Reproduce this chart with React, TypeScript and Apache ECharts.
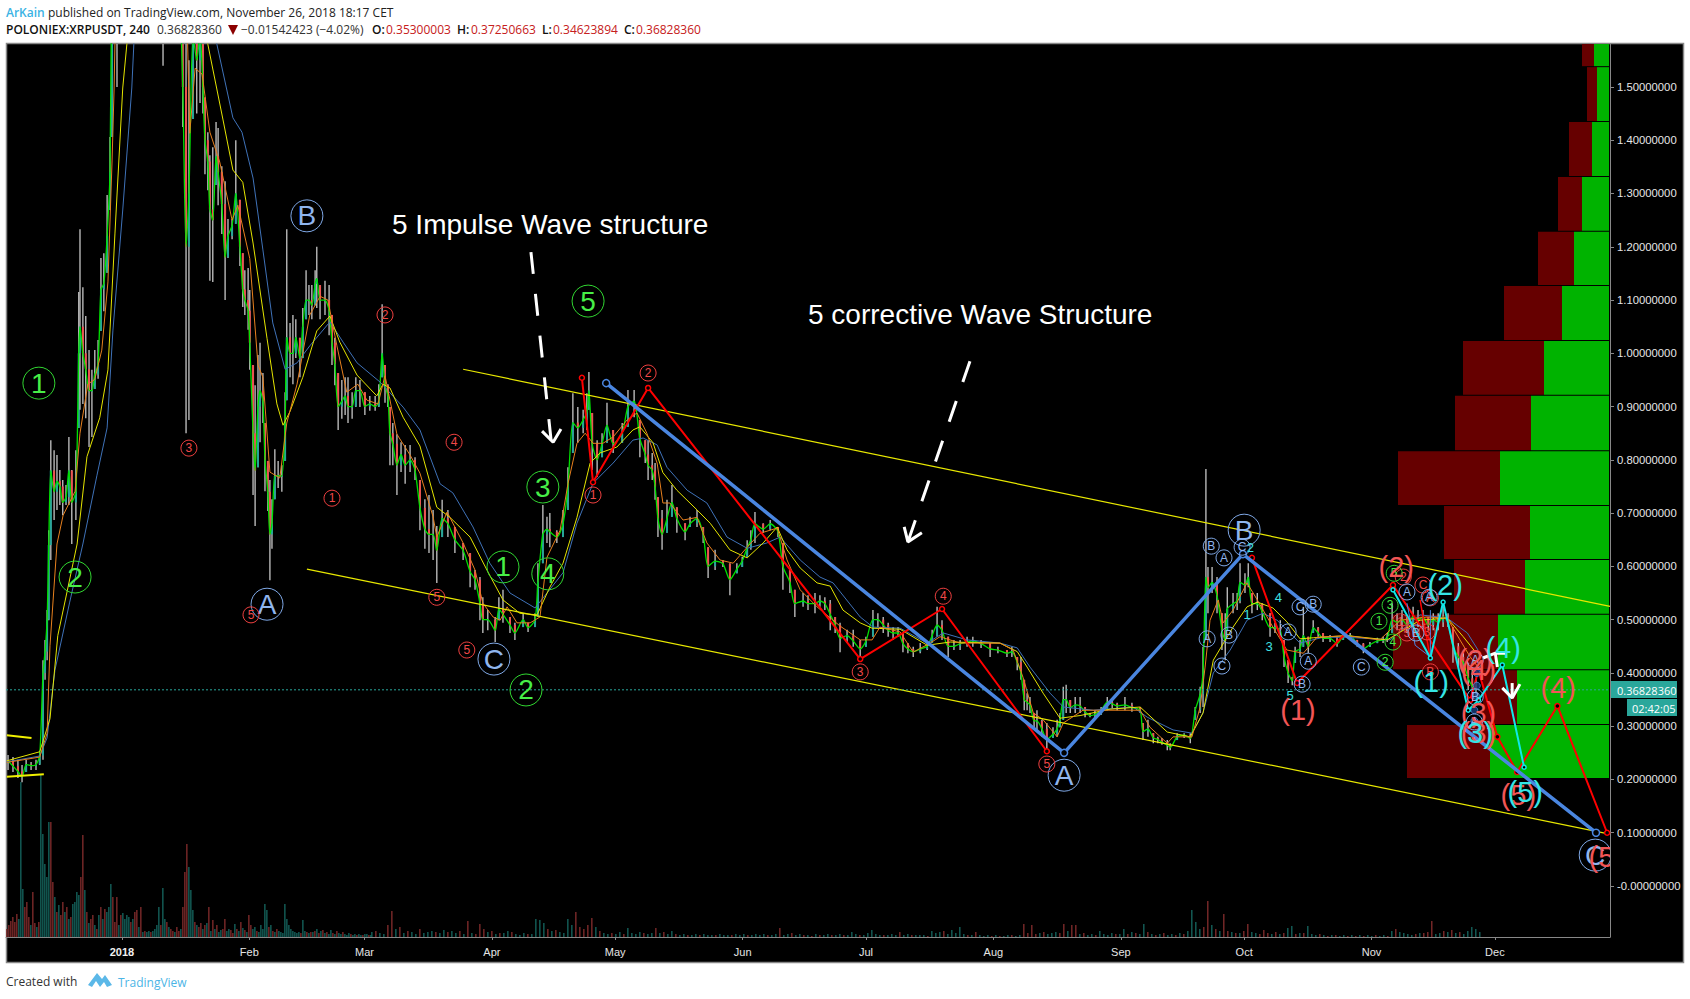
import React, { useEffect, useRef } from "react";
import * as echarts from "echarts";

const FONT = "'Liberation Sans', Arial, sans-serif";

const minDay = -28.2;
const maxDay = 362;
const minPrice = -0.0957;
const maxPrice = 1.5806;
const lastPrice = 0.3682836;

const monthDays = [0, 31, 59, 90, 120, 151, 181, 212, 243, 273, 304, 334];
const monthLabels = ["2018", "Feb", "Mar", "Apr", "May", "Jun", "Jul", "Aug", "Sep", "Oct", "Nov", "Dec"];
const priceTicks = [0, 0.1, 0.2, 0.3, 0.4, 0.5, 0.6, 0.7, 0.8, 0.9, 1.0, 1.1, 1.2, 1.3, 1.4, 1.5];

// price bars: [day since 2018-01-01, low, high, close]
const barsDec = [
  [-27.7,.218,.246,.235],[-26.5,.214,.242,.225],[-25.3,.203,.237,.215],[-24.3,.195,.227,.205],[-23.3,.214,.237,.228],[-22.1,.218,.233,.226],[-20.9,.218,.237,.228],[-20,.227,.252,.245],[-19.2,.237,.424,.40],[-18.7,.387,.462,.44],[-18.2,.424,.518,.50],[-17.8,.499,.668,.64],[-17.3,.612,.837,.78],[-16.5,.687,.818,.74],[-15.8,.706,.809,.76],[-15.1,.715,.781,.75],[-14.4,.696,.762,.72],[-13.6,.715,.753,.73],[-12.9,.715,.843,.78],[-12.2,.642,.781,.72],[-11.2,.687,.818,.74],[-10.5,.860,1.115,1.0],[-10.2,.894,1.233,1.05],[-9.5,.905,1.124,1.0],[-8.8,.878,1.07,.97],[-8,.824,1.006,.93],[-7.3,.843,.969,.93],[-6.6,.933,1.006,.96],[-5.8,.952,1.025,.98],[-5.1,1.042,1.179,1.12],[-4.4,1.079,1.188,1.13],[-3.6,1.151,1.297,1.22],[-2.9,1.269,1.406,1.34],[-2.4,1.406,1.9,1.75],[-1.2,1.50,2.3,2.1],
];
const barsJan = [
  [1,1.9,2.6,2.2],[3,2.2,3.0,2.7],[5,2.3,3.2,2.8],[7,2.0,2.8,2.4],[9,1.85,2.6,2.2],[10,1.54,2.2,2.0],[12,1.7,2.3,1.9],[13.5,1.6,2.1,1.8],[14.8,1.425,1.9,1.5],[15.6,.85,1.6,1.2],[16.3,.875,1.55,1.3],[17.3,1.44,1.7,1.6],[18.2,1.45,1.75,1.55],[19,1.47,1.75,1.6],[19.7,1.45,1.62,1.5],[20.2,1.336,1.48,1.4],[20.9,1.306,1.415,1.36],[21.4,1.136,1.372,1.27],[22.1,1.134,1.387,1.25],[22.9,1.316,1.434,1.37],[23.4,1.278,1.423,1.34],[24.3,1.224,1.351,1.28],[25.1,1.10,1.323,1.18],[25.8,1.179,1.252,1.22],[26.8,1.214,1.252,1.24],[27.7,1.243,1.40,1.3],[28.7,1.164,1.288,1.2],[29.4,1.087,1.188,1.12],[29.9,1.072,1.156,1.1],[30.7,1.044,1.16,1.08],
];
const barsFeb = [
  [31.1,.969,1.119,1.02],[31.9,.734,.978,.85],[32.4,.676,.94,.78],[33.1,.786,.997,.9],[33.6,.833,1.02,.93],[34.3,.869,.963,.91],[34.8,.741,.869,.8],[35.5,.704,.798,.74],[36,.574,.762,.66],[36.5,.633,.726,.68],[37.2,.726,.82,.77],[38,.747,.798,.77],[38.9,.74,.79,.77],[39.7,.798,.927,.87],[40.1,.912,1.233,1.03],[40.9,.955,1.057,1.0],[41.6,.942,1.072,1.0],[42.3,.991,1.064,1.03],[43.3,.955,1.029,.99],[44,.991,1.085,1.05],[44.8,1.064,1.156,1.1],[45.5,1.072,1.128,1.1],[46.2,1.064,1.128,1.09],[47,1.09,1.156,1.13],[47.4,1.085,1.2,1.14],[48.2,1.064,1.128,1.1],[49.4,1.072,1.136,1.1],[50.4,1.034,1.128,1.08],[51.1,.978,1.072,1.02],[51.8,.94,1.029,.98],[52.6,.856,.963,.9],[53.5,.877,.95,.91],[54.3,.884,.955,.92],[55,.869,.955,.9],[56,.877,.927,.9],[56.9,.899,.955,.93],[57.9,.899,.95,.93],
];
const barsMar = [
  [59.1,.884,.927,.9],[60.3,.892,.92,.905],[61.6,.892,.92,.9],[62.5,.899,.942,.91],[63.3,.955,1.092,1.0],[64,.907,.978,.94],[64.7,.899,.942,.92],[65.2,.79,.899,.85],[65.9,.79,.869,.83],[66.9,.734,.848,.79],[67.9,.777,.833,.81],[68.9,.755,.828,.79],[70.1,.777,.828,.8],[71.3,.762,.805,.78],[72.5,.668,.762,.71],[73.7,.633,.726,.67],[74.7,.625,.734,.66],[75.7,.612,.706,.66],[76.6,.569,.676,.63],[77.9,.655,.725,.69],[79.3,.655,.706,.68],[81,.625,.674,.65],[83,.612,.644,.63],[84.7,.561,.625,.59],[85.9,.556,.593,.575],[87.1,.499,.58,.53],[87.8,.475,.542,.50],[89,.48,.518,.50],
];
const barsApr = [
  [90.8,.458,.505,.48],[91.7,.499,.542,.52],[92.7,.494,.556,.51],[94.4,.475,.505,.49],[95.6,.462,.494,.475],[97.6,.486,.512,.50],[98.8,.477,.494,.485],[100.5,.486,.512,.50],[101.2,.505,.606,.57],[102.4,.606,.715,.66],[103.4,.644,.693,.67],[104.1,.636,.70,.665],[105.8,.644,.668,.655],[107.3,.655,.706,.68],[108.5,.706,.786,.75],[109.7,.813,.925,.87],[110.9,.832,.899,.86],[112.2,.85,.894,.875],[113.1,.856,.925,.89],[113.6,.894,.965,.93],[114.4,.781,.888,.83],[115.6,.768,.837,.8],[116.8,.805,.85,.83],[118,.832,.907,.865],[119.5,.813,.856,.83],
];
const barsMay = [
  [121.7,.832,.869,.85],[123.1,.862,.931,.9],[124.6,.88,.931,.91],[126,.805,.875,.84],[127.3,.794,.837,.81],[128,.762,.837,.79],[129,.762,.813,.78],[129.7,.725,.794,.75],[130.4,.655,.73,.69],[131.4,.631,.706,.66],[132.6,.663,.725,.69],[133.8,.693,.753,.72],[135,.663,.711,.69],[137,.649,.681,.665],[138.2,.674,.693,.68],[139.9,.674,.706,.69],[141.4,.644,.674,.66],[142.6,.578,.636,.6],[144.3,.593,.631,.61],[146.2,.599,.612,.605],[147.9,.546,.606,.575],[149.6,.587,.606,.595],
];
const barsJun = [
  [150.9,.599,.618,.61],[152.1,.618,.649,.635],[153,.631,.668,.65],[154,.644,.702,.68],[156,.663,.681,.67],[157.7,.668,.687,.68],[159.6,.655,.674,.665],[160.8,.556,.644,.6],[162.5,.55,.593,.57],[163.7,.505,.556,.53],[165.7,.524,.55,.535],[166.9,.518,.546,.53],[168.6,.512,.55,.53],[169.8,.524,.546,.535],[171,.518,.542,.53],[172.3,.48,.537,.51],[173.5,.475,.505,.49],[174.7,.439,.494,.465],[176.4,.456,.481,.47],[177.9,.449,.481,.46],[179.6,.43,.462,.445],
];
const barsJul = [
  [181,.449,.468,.46],[182.7,.468,.518,.5],[183.9,.486,.512,.5],[185.2,.475,.505,.49],[186.4,.468,.494,.48],[187.6,.462,.486,.475],[188.8,.468,.486,.475],[190,.439,.475,.455],[191.2,.437,.456,.445],[192.5,.43,.449,.44],[194.2,.437,.456,.445],[195.9,.443,.456,.45],[197.1,.456,.481,.47],[198.3,.468,.524,.49],[199.5,.462,.499,.48],[201,.43,.468,.45],[202.4,.443,.462,.45],[203.9,.443,.462,.455],[205.6,.449,.468,.458],[207,.449,.468,.46],[209,.447,.462,.455],[211.2,.43,.456,.445],
];
const barsAug = [
  [213.1,.437,.449,.443],[215.3,.43,.443,.437],[216.5,.43,.449,.44],[217.8,.405,.43,.42],[218.7,.387,.43,.40],[219.5,.33,.387,.35],[220.2,.33,.362,.345],[220.9,.325,.355,.34],[221.9,.298,.325,.31],[222.6,.293,.33,.31],[223.8,.28,.312,.295],[225,.255,.306,.275],[226.5,.278,.298,.285],[227.5,.28,.312,.295],[228.2,.298,.325,.312],[229,.312,.374,.35],[229.7,.325,.378,.35],[230.7,.325,.349,.335],[231.9,.325,.355,.34],[233.1,.325,.355,.338],[234.3,.317,.336,.327],[235.5,.317,.325,.32],[236.7,.315,.33,.322],[238.2,.321,.336,.33],[239.7,.33,.355,.345],[240.9,.334,.349,.342],[242.1,.33,.344,.338],
];
const barsSep = [
  [244,.33,.355,.34],[245.7,.327,.344,.335],[247.7,.325,.336,.33],[248.4,.274,.306,.29],[249.6,.28,.312,.295],[250.9,.268,.287,.278],[252,.268,.28,.275],[253,.265,.278,.27],[254.3,.255,.274,.265],[255,.255,.268,.26],[256.7,.274,.287,.28],[258.4,.278,.287,.283],[259.9,.268,.287,.277],[261.1,.312,.336,.33],[262.3,.325,.374,.36],[263,.336,.449,.40],[263.7,.462,.783,.58],[264.2,.512,.599,.56],[265.2,.55,.599,.57],[266.4,.512,.58,.545],[267.6,.443,.512,.48],[268.4,.424,.512,.46],[268.9,.48,.561,.52],[270.3,.512,.55,.53],[271.3,.518,.55,.535],[272,.531,.606,.57],
];
const barsOct = [
  [273.2,.55,.587,.565],[274,.561,.606,.58],[274.9,.512,.55,.53],[276.2,.518,.55,.53],[277.4,.499,.531,.515],[279.3,.468,.512,.485],[280.5,.475,.494,.485],[281.8,.468,.499,.48],[282.7,.411,.462,.43],[283.7,.381,.424,.40],[284.7,.377,.392,.385],[285.4,.419,.449,.44],[286.6,.43,.462,.445],[287.4,.449,.524,.47],[288.6,.437,.468,.45],[289.8,.475,.499,.485],[291,.468,.486,.475],[292.2,.458,.475,.465],[293.9,.458,.471,.465],[295.6,.449,.468,.455],[297.1,.462,.475,.468],[298.8,.466,.475,.47],[300.5,.449,.462,.455],[302,.437,.456,.445],
];
const barsNov = [
  [303.6,.449,.458,.453],[305.4,.456,.466,.46],[306.8,.456,.468,.462],[307.8,.458,.475,.465],[309,.475,.531,.50],[310.2,.48,.512,.495],[311.4,.48,.518,.5],[312.6,.475,.505,.49],[314.1,.486,.524,.505],[315.3,.486,.518,.50],[316.5,.48,.518,.505],[317.8,.48,.505,.49],[319,.48,.512,.50],[320.2,.48,.512,.495],[321.4,.486,.524,.505],[322.6,.486,.512,.495],[323.8,.419,.486,.45],[325.1,.411,.456,.43],[326.3,.4,.437,.42],[327.5,.368,.419,.39],[328.5,.355,.406,.375],[329.4,.355,.387,.368],
];

const blueMA = [[-28,.233],[-20,.244],[-18.2,.278],[-16.3,.405],[-12.7,.533],[-9.5,.642],[-6.1,.77],[-3.6,.86],[-2.2,1.042],[.2,1.269],[2.4,1.498],[2.9,1.58],[7,1.95],[14,2.1],[20,1.8],[23.1,1.58],[27,1.442],[29.2,1.415],[31.9,1.329],[34.3,1.194],[36.7,1.057],[39.7,.97],[42.6,.982],[45.7,1.014],[50.6,1.059],[53.8,1.021],[57.2,.982],[62.8,.946],[68.4,.899],[72.5,.856],[77.4,.755],[80.5,.738],[85.4,.674],[89.5,.606],[94.4,.55],[100.5,.522],[103.4,.55],[107.3,.588],[110.7,.681],[114.6,.756],[119.5,.794],[124.3,.837],[126.8,.841],[130.2,.828],[132.6,.786],[137.5,.743],[142.3,.719],[147.2,.655],[152.1,.634],[156.9,.644],[160.1,.655],[165,.612],[169.8,.58],[173,.569],[179.6,.505],[182.7,.486],[189.3,.484],[195.9,.456],[199.8,.475],[205.6,.462],[213.6,.456],[217.8,.447],[220.9,.411],[225.8,.362],[229,.336],[236.3,.33],[246,.336],[249.4,.317],[255.7,.293],[260.3,.287],[263,.325],[265.5,.4],[269.6,.443],[273.7,.499],[277.6,.512],[281,.499],[286.6,.456],[292.2,.467],[298,.467],[308.5,.462],[315.8,.509],[322.4,.503],[327.3,.475],[329.9,.443]];
const yellowMA = [[-28,.235],[-20,.252],[-17.5,.314],[-15.6,.47],[-10.9,.642],[-8.5,.806],[-5.4,.879],[-3.4,.969],[-1.7,1.224],[.2,1.498],[1.2,1.58],[5,2.0],[12,2.3],[18,1.9],[20.9,1.58],[24.6,1.438],[27,1.344],[29.4,1.321],[31.9,1.207],[35.3,1.028],[37.7,.905],[39.2,.865],[40.9,.891],[44,.955],[47.4,1.042],[50.6,1.07],[53,1.021],[57.2,.959],[62,.92],[63.5,.942],[65.2,.935],[68.4,.88],[72.5,.826],[76.6,.711],[79.8,.692],[84.7,.655],[88.8,.593],[92.7,.537],[96.8,.512],[101,.509],[104.1,.561],[107.3,.606],[110.7,.692],[113.9,.794],[116.3,.813],[120.4,.824],[124.3,.856],[126,.862],[129.2,.832],[131.6,.776],[135,.743],[139.9,.706],[143.1,.681],[147.9,.631],[152.1,.616],[156,.644],[159.4,.674],[161.8,.631],[165,.597],[169.1,.569],[172.3,.563],[175.4,.518],[179.6,.494],[182.5,.484],[189.3,.482],[195.9,.452],[201.5,.458],[213.6,.456],[217.8,.44],[220.2,.411],[224.1,.362],[228.2,.315],[233.1,.32],[240.4,.332],[247.7,.336],[254.3,.289],[259.9,.28],[263,.325],[265.5,.424],[270.3,.486],[273.7,.524],[276.2,.533],[280,.522],[283.4,.496],[286.6,.464],[289.8,.466],[298,.47],[307.8,.462],[315.8,.499],[322.4,.503],[326.3,.468],[329.2,.44]];
const orangeMA = [[-28,.232],[-20,.242],[-18.2,.287],[-17.5,.451],[-15.8,.642],[-14.3,.696],[-11.4,.741],[-10.2,.85],[-8.3,.942],[-6.6,.951],[-4.9,1.006],[-3.4,1.134],[-2.4,1.361],[-1.9,1.498],[-1.7,1.58],[3,2.2],[8,2.6],[13,2.3],[15,1.9],[16.5,1.413],[17.8,1.535],[19.5,1.524],[21.4,1.415],[23.8,1.359],[26.8,1.25],[28.2,1.278],[31.1,1.178],[33.1,.978],[34.3,.955],[36,.777],[38.4,.766],[40.1,.869],[42.6,.942],[45.7,1.072],[48.2,1.107],[50.1,1.1],[52.3,1.014],[54.7,.927],[57.4,.942],[59.6,.912],[62.3,.905],[64,.958],[66.9,.848],[70.1,.809],[72.5,.775],[75.7,.693],[76.6,.655],[79.1,.702],[83,.644],[85.9,.593],[87.8,.531],[90.3,.505],[92,.499],[93.7,.524],[96.1,.494],[99.3,.494],[101.7,.505],[103.4,.617],[106.6,.668],[108.5,.755],[110.7,.831],[112.7,.85],[114.6,.831],[117,.831],[119.5,.843],[122.9,.875],[125.3,.888],[127.7,.85],[130.2,.794],[131.6,.719],[133.3,.719],[136.5,.687],[139.9,.692],[142.3,.644],[145.5,.612],[148.7,.606],[152.1,.636],[155.2,.662],[159.4,.672],[161.8,.612],[165,.556],[169.1,.524],[174.7,.488],[179.6,.462],[182.5,.462],[184.4,.486],[189.3,.477],[192.5,.439],[196.6,.456],[199,.468],[203.9,.456],[213.6,.456],[216.8,.443],[219.2,.392],[221.7,.325],[224.1,.312],[227.5,.28],[229,.306],[233.8,.33],[247.7,.33],[250.1,.298],[254.3,.268],[255.7,.28],[260.3,.28],[262.3,.336],[263.5,.411],[264.7,.499],[266.7,.537],[267.9,.494],[270.3,.518],[273.7,.569],[276.2,.537],[280,.486],[283.4,.443],[287.4,.437],[290.7,.467],[298,.47],[306,.462],[311,.499],[317.5,.505],[322.4,.503],[325.5,.462],[328,.43],[330,.41]];

const channelTop = [[83,.97],[362,.525]];
const channelBottom = [[45,.595],[361.6,.098]];
const oldChannelTop = [[-28,.283],[-22,.278]];
const oldChannelBottom = [[-28,.205],[-19,.21]];

const blueWave = [[117.8,.944],[229.2,.25],[272.7,.623],[358.6,.10]];
const redWaveA = [[111.9,.954],[114.6,.758],[128,.935],[179.6,.426],[199.5,.52],[225,.253]];
const redWaveB = [[274.9,.616],[285.9,.381],[309.2,.565],[328,.349],[330,.405],[334.6,.28],[339.4,.214],[349.2,.338],[361.3,.10]];
const redMinor = [[315.8,.537],[318.3,.426]];
const cyanWave = [[309.2,.556],[318.3,.428],[321.4,.533],[327.5,.33],[330,.349],[335.8,.415],[341.1,.223]];
const blueMinor = [[312.6,.531],[314.6,.452],[318.3,.43],[318.3,.518]];
const blueDots = [[329.6,.40],[329.6,.376],[329.4,.357],[329,.33],[329,.31]];

const arrowOneStem = [[99.5,1.19],[104.4,.837]];
const arrowOneHead = [[102.2,.854],[104.9,.833],[106.8,.858]];
const arrowTwoStem = [[206.3,.985],[191.2,.646]];
const arrowTwoHead = [[190.3,.674],[191.2,.646],[194.6,.663]];
const arrowUpStem = [[334.6,.411],[334.1,.437]];
const arrowUpHead = [[331.1,.428],[334.1,.437],[336.5,.437]];
const arrowDownStem = [[338.2,.381],[338.2,.353]];
const arrowDownHead = [[335.8,.372],[338.2,.353],[340.1,.379]];

// wave labels: [day, price, text]
const greenBig = [[-20.2,.944,"1"],[-11.4,.58,"2"],[92.7,.599,"1"],[98.3,.368,"2"],[102.4,.749,"3"],[103.6,.586,"4"],[113.4,1.098,"5"]];
const blueBig = [[45,1.258,"B"],[35.3,.529,"A"],[90.5,.426,"C"],[229.2,.208,"A"],[273,.668,"B"],[358.4,.058,"C"]];
const redSmall = [[16.3,.822,"3"],[51.1,.728,"1"],[80.8,.833,"4"],[64,1.072,"2"],[31.4,.509,"5"],[76.6,.542,"5"],[83.9,.443,"5"],[114.6,.734,"1"],[128,.963,"2"],[179.6,.402,"3"],[199.8,.544,"4"],[225,.229,"5"],[311.7,.58,"2"],[316.5,.565,"C"],[318.3,.541,"A"],[318.3,.402,"B"],[312.6,.475,"5"],[311,.496,"1"],[317.5,.477,"3"]];
const blueSmall = [[265,.638,"B"],[268.1,.616,"A"],[272.5,.636,"C"],[264,.464,"A"],[269.3,.471,"B"],[267.6,.413,"C"],[283.7,.477,"A"],[286.6,.524,"C"],[289.8,.529,"B"],[288.6,.422,"A"],[287.1,.379,"B"],[301.5,.411,"C"],[312.6,.552,"A"],[318,.542,"A"],[314.8,.475,"B"],[329.2,.424,"A"],[329.2,.355,"B"],[329,.308,"A"]];
const greenSmall = [[309.5,.587,"5"],[308.5,.527,"3"],[305.8,.497,"1"],[309.2,.458,"4"],[307.3,.42,"2"]];
const cyanPlain = [[273.7,.509,"1"],[274.5,.636,"2"],[279.1,.449,"3"],[281.3,.541,"4"],[284.2,.357,"5"]];
const redParen = [[286.1,.33,"(1)"],[310,.599,"(2)"],[330,.405,"(4)"],[329.2,.424,"(2)"],[330,.325,"(3)"],[330,.287,"(3)"],[349.4,.372,"(4)"],[339.7,.171,"(5)"],[359.9,.054,"(5"]];
const cyanParen = [[321.9,.565,"(2)"],[318.5,.383,"(1)"],[336,.447,"(4)"],[329.2,.287,"(3)"],[341.4,.176,"(5)"]];

// volume profile, bottom row first
const profileEdges = [.203,.304,.407,.511,.614,.715,.818,.922,1.025,1.128,1.23,1.333,1.436,1.539,1.65];
const profileUp = [119,92,111,84,79,109,78,65,47,35,27,17,12,15];
const profileDown = [83,34,105,71,86,102,76,81,58,36,24,23,10,12];

// volume: positive = up bar, negative = down bar
const volEarlyStart = -28;
const volEarlyStep = 0.4866;
const volEarly = [-8,-12,-16,-20,-15,-23,18,155,48,-30,-35,-20,12,-45,-14,10,-15,162,103,73,60,115,-115,-55,40,-25,32,-22,-35,25,-30,18,-20,33,35,45,42,-60,-102,47,-25,14,-18,-22,12,-8,22,-30,18,-28,25,30,53,-40,-15,-40,12,-22,24,18,22,20,-15,18,-25,-27,10,-30,5,-6,5,6,-5,6,8,12,30,-12,49,18,-15,10,-8,-6,5,-10,-6,8,-30,-65,-93,70,47,27,-15,12,-10,-14,8,-12,14,-30,6,-17,8,-12,5,7,-8,-18,6,8,-7,-4,13,-8,6,-15,9,-7,5,-22,-12,8,10,-6,5,12,8,33,27,-10,12,-6,5,-8,6,5,4,33,18,12,8,6,5,4,5,-4,17,6,-5,4,-5,5,-6,8,-4,6,-7,4,-5,3,7,-4,3,-6,4,3,-5,3,2,4,-3,2,3,-2,3,2,-2,3,3,-2,2];
const volLateStart = 60.8;
const volLateStep = 0.973;
const volLate = [5,-6,4,3,-12,-26,8,-10,4,-6,5,3,-8,4,5,6,-5,4,7,-5,6,4,-6,3,-16,4,-3,-13,-8,5,-6,3,-4,4,6,-5,3,2,4,-3,3,18,17,14,-8,6,-7,5,4,18,12,-25,-10,-8,-12,-19,10,-6,4,3,-4,3,5,-3,9,4,3,5,-4,3,4,-9,4,-5,3,6,-3,2,3,-2,2,3,-2,3,2,2,-2,3,2,2,-2,3,2,3,-2,2,3,2,3,-2,2,3,-9,2,3,-4,2,3,-2,2,-1,3,-2,2,3,-2,2,3,-2,2,5,3,-2,2,4,7,3,2,-2,2,3,2,-5,2,3,-2,2,2,2,-1,6,4,5,-6,3,7,4,10,3,-2,2,-5,2,1,2,-1,2,-1,1,2,-2,1,2,-13,-4,-12,-3,4,-5,3,4,5,-4,-13,6,-12,-12,3,-4,2,3,-2,6,3,2,4,-3,3,8,-3,5,-4,3,13,-5,3,-2,3,-4,2,3,-2,4,-3,6,27,15,8,-10,-36,12,-8,6,-23,-6,5,-4,4,-6,-13,5,4,-3,-7,-4,3,-5,3,-4,9,11,-3,4,-4,11,3,2,-3,2,-1,2,-2,1,2,-1,2,-1,2,-1,2,1,-2,1,2,-1,6,-8,5,4,3,2,-3,4,-4,-5,-16,3,4,-6,5,-7,4,-5,3,6,10,8,5];

function App() {
  const ref = useRef<HTMLDivElement>(null);
  useEffect(() => {
    const chart = echarts.init(ref.current!, null, { renderer: "svg" });

    const allBars = [barsDec, barsJan, barsFeb, barsMar, barsApr, barsMay, barsJun, barsJul, barsAug, barsSep, barsOct, barsNov].flat();
    const candleRows = allBars.map((b, i) => {
      const prev = i > 0 ? allBars[i - 1][3] : b[3];
      const open = Math.min(b[2], Math.max(b[1], prev));
      return [b[0], b[1], b[2], b[3], open];
    });
    const closeLine = allBars.map((b) => [b[0], b[3]]);

    const volRows = [
      ...volEarly.map((v, i) => ({ d: volEarlyStart + i * volEarlyStep, v })),
      ...volLate.map((v, i) => ({ d: volLateStart + i * volLateStep, v })),
    ].map((o) => ({
      value: [o.d, Math.abs(o.v)],
      itemStyle: { color: o.v >= 0 ? "#14605a" : "#7c2a2a" },
    }));

    const profileRows = profileUp.map((u, i) => [profileEdges[i], profileEdges[i + 1], u, profileDown[i]]);

    const lineS = (data: any[], color: string, width: number, z: number, extra: any = {}) => ({
      type: "line", data, showSymbol: false, symbol: "none", silent: true, z,
      lineStyle: { color, width }, itemStyle: { color }, clip: true, ...extra,
    });
    const waveS = (data: any[], color: string, width: number, size: number, z: number) => ({
      type: "line", data, symbol: "circle", symbolSize: size, showSymbol: true, silent: true, z, clip: true,
      lineStyle: { color, width },
      itemStyle: { color: "#000000", borderColor: color, borderWidth: 1.5 },
    });
    const labelS = (rows: any[], stroke: string | null, fill: string, r: number, font: number, z: number) => ({
      type: "custom", coordinateSystem: "cartesian2d", silent: true, clip: true, z,
      data: rows.map((l) => [l[0], l[1]]),
      encode: { x: 0, y: 1 },
      renderItem: (params: any, api: any) => {
        const p = api.coord([api.value(0), api.value(1)]);
        const children: any[] = [];
        if (stroke) {
          children.push({ type: "circle", shape: { cx: p[0], cy: p[1], r }, style: { fill: "rgba(0,0,0,0)", stroke, lineWidth: 1 } });
        }
        children.push({
          type: "text",
          style: { text: rows[params.dataIndex][2], x: p[0], y: p[1], fill, font: `${font}px ${FONT}`, textAlign: "center", textVerticalAlign: "middle", verticalAlign: "middle" },
        });
        return { type: "group", children };
      },
    });
    const whiteS = (data: any[], width: number, dashed: boolean) =>
      lineS(data, "#ffffff", width, 20, dashed ? { lineStyle: { color: "#ffffff", width, type: [22, 20] } } : {});

    const headerText = (text: string, x: number, y: number, fill: string, weight = "normal", size = 12) => ({
      type: "text", x, y, z: 100, silent: true,
      style: { text, fill, font: `${weight} ${size}px 'Open Sans', ${FONT}`, textVerticalAlign: "middle", verticalAlign: "middle" },
    });

    chart.setOption({
      animation: false,
      backgroundColor: "#ffffff",
      grid: { left: 6, right: 80, top: 44, bottom: 62, containLabel: false },
      xAxis: [
        {
          type: "value", min: minDay, max: maxDay, splitLine: { show: false },
          axisLine: { show: true, onZero: false, lineStyle: { color: "#888888" } },
          axisTick: { show: true, length: 3, lineStyle: { color: "#888888" }, customValues: monthDays },
          axisLabel: {
            show: true, color: "#e6e6e6", fontFamily: FONT, fontSize: 11, margin: 9, customValues: monthDays,
            formatter: (v: number) => {
              const label = monthLabels[monthDays.indexOf(v)] ?? "";
              return v === 0 ? `{year|${label}}` : label;
            },
            rich: { year: { color: "#f0f0f0", fontFamily: FONT, fontSize: 11, fontWeight: "bold" } },
          },
        },
        { type: "value", min: 0, max: 1604, inverse: true, show: false, splitLine: { show: false } },
      ],
      yAxis: [
        {
          type: "value", position: "right", min: minPrice, max: maxPrice, splitLine: { show: false },
          axisLine: { show: true, onZero: false, lineStyle: { color: "#888888" } },
          axisTick: { show: true, length: 4, lineStyle: { color: "#888888" }, customValues: priceTicks },
          axisLabel: {
            show: true, color: "#e6e6e6", fontFamily: FONT, fontSize: 11.3, margin: 7, customValues: priceTicks,
            formatter: (v: number) => (v === 0 ? "-0.00000000" : v.toFixed(8)),
          },
        },
        { type: "value", min: 0, max: 893, show: false, splitLine: { show: false } },
      ],
      graphic: [
        { type: "rect", z: -1, silent: true, shape: { x: 6.5, y: 43.5, width: 1677, height: 919 }, style: { fill: "#000000", stroke: "#888888", lineWidth: 1.5 } },
        headerText("ArKain", 6, 12, "#3bb3e4", "600"),
        headerText("published on TradingView.com, November 26, 2018 18:17 CET", 48, 12, "#222222"),
        headerText("POLONIEX:XRPUSDT, 240", 6, 29, "#111111", "600"),
        headerText("0.36828360", 157, 29, "#333333"),
        { type: "polygon", z: 100, silent: true, shape: { points: [[228, 25], [238, 25], [233, 35]] }, style: { fill: "#8b0000" } },
        headerText("\u22120.01542423 (\u22124.02%)", 241, 29, "#333333"),
        headerText("O:", 372, 29, "#111111", "600"),
        headerText("0.35300003", 386, 29, "#c62020"),
        headerText("H:", 457, 29, "#111111", "600"),
        headerText("0.37250663", 471, 29, "#c62020"),
        headerText("L:", 542, 29, "#111111", "600"),
        headerText("0.34623894", 553, 29, "#c62020"),
        headerText("C:", 624, 29, "#111111", "600"),
        headerText("0.36828360", 636, 29, "#c62020"),
        headerText("Created with", 6, 981, "#333333"),
        { type: "polygon", z: 100, silent: true, shape: { points: [[88, 985], [97, 973], [102, 979], [105, 975], [112, 985], [107, 987], [104, 982], [100, 987], [96, 981], [92, 987]] }, style: { fill: "#5bb8e8" } },
        headerText("TradingView", 118, 982, "#4bb5e6"),
        { type: "text", x: 392, y: 224, z: 100, silent: true, style: { text: "5 Impulse Wave structure", fill: "#ffffff", font: `28px ${FONT}`, textVerticalAlign: "middle", verticalAlign: "middle" } },
        { type: "text", x: 808, y: 314, z: 100, silent: true, style: { text: "5 corrective Wave Structure", fill: "#ffffff", font: `28px ${FONT}`, textVerticalAlign: "middle", verticalAlign: "middle" } },
        { type: "rect", z: 100, silent: true, shape: { x: 1611, y: 681, width: 66, height: 17 }, style: { fill: "#2aa79b" } },
        headerText("0.36828360", 1617, 690, "#ffffff", "normal", 11),
        { type: "rect", z: 100, silent: true, shape: { x: 1627, y: 699, width: 50, height: 17 }, style: { fill: "#2aa79b" } },
        headerText("02:42:05", 1632, 708, "#ffffff", "normal", 11),
      ],
      series: [
        {
          type: "custom", coordinateSystem: "cartesian2d", xAxisIndex: 1, yAxisIndex: 0, silent: true, clip: true, z: 1,
          data: profileRows, encode: { x: [2, 3], y: [0, 1] },
          renderItem: (_: any, api: any) => {
            const low = api.value(0), high = api.value(1), up = api.value(2), down = api.value(3);
            const a = api.coord([0, high]);
            const b = api.coord([up, low]);
            const c = api.coord([up + down, low]);
            const y0 = a[1] + 1, h = b[1] - a[1] - 1;
            return {
              type: "group",
              children: [
                { type: "rect", shape: { x: b[0] - 1, y: y0, width: a[0] - b[0], height: h }, style: { fill: "#00b300" } },
                { type: "rect", shape: { x: c[0] - 1, y: y0, width: b[0] - c[0], height: h }, style: { fill: "#660000" } },
              ],
            };
          },
        },
        { type: "bar", xAxisIndex: 0, yAxisIndex: 1, barWidth: 1.4, data: volRows, silent: true, z: 2 },
        {
          type: "custom", coordinateSystem: "cartesian2d", silent: true, clip: true, z: 3,
          data: candleRows, encode: { x: 0, y: [1, 2] },
          renderItem: (_: any, api: any) => {
            const d = api.value(0), l = api.value(1), h = api.value(2), c = api.value(3), o = api.value(4);
            const pl = api.coord([d, l]), ph = api.coord([d, h]);
            const po = api.coord([d, o]), pc = api.coord([d, c]);
            const top = Math.min(po[1], pc[1]);
            const ht = Math.max(1, Math.abs(po[1] - pc[1]));
            return {
              type: "group",
              children: [
                { type: "rect", shape: { x: pl[0] - 0.7, y: ph[1], width: 1.4, height: pl[1] - ph[1] }, style: { fill: "#b9b9b9" } },
                { type: "rect", shape: { x: pl[0] - 1, y: top, width: 2, height: ht }, style: { fill: c >= o ? "#26a69a" : "#ef5350" } },
              ],
            };
          },
        },
        lineS(closeLine, "#00e000", 1.3, 4, { smooth: 0.25 }),
        lineS(blueMA, "#3f72b8", 1, 5),
        lineS(yellowMA, "#e5e500", 1, 5),
        lineS(orangeMA, "#e8801e", 1, 5),
        lineS(channelTop, "#e8e800", 1.2, 6),
        lineS(channelBottom, "#e8e800", 1.2, 6),
        lineS(oldChannelTop, "#f0f000", 2, 6),
        lineS(oldChannelBottom, "#f0f000", 2, 6),
        lineS([[minDay, lastPrice], [maxDay, lastPrice]], "#2aa79b", 1, 6, { lineStyle: { color: "#2aa79b", width: 1, type: [2, 2] } }),
        waveS(redWaveA, "#ff0000", 2, 5, 8),
        waveS(redWaveB, "#ff0000", 2, 5, 8),
        lineS(redMinor, "#ff0000", 1.5, 8),
        waveS(blueWave, "#4a86e0", 3.5, 7, 9),
        waveS(cyanWave, "#10e8e8", 2, 4, 10),
        lineS(blueMinor, "#4a86e0", 1, 8),
        { type: "scatter", data: blueDots, symbolSize: 7, silent: true, z: 9, itemStyle: { color: "#1c3f7a", borderColor: "#4a86e0", borderWidth: 1 } },
        whiteS(arrowOneStem, 3, true),
        whiteS(arrowOneHead, 3, false),
        whiteS(arrowTwoStem, 3, true),
        whiteS(arrowTwoHead, 3, false),
        whiteS(arrowUpStem, 3, false),
        whiteS(arrowUpHead, 3, false),
        whiteS(arrowDownStem, 3, false),
        whiteS(arrowDownHead, 3, false),
        labelS(greenBig, "#31d631", "#47ee47", 16, 28, 21),
        labelS(blueBig, "#7fa8e6", "#8fb5ee", 16, 28, 21),
        labelS(redSmall, "#f04040", "#f04848", 8, 12, 21),
        labelS(blueSmall, "#7fa8e6", "#8fb5ee", 8, 12, 21),
        labelS(greenSmall, "#31d631", "#47ee47", 8, 12, 21),
        labelS(cyanPlain, null, "#3fe0e0", 0, 13, 21),
        labelS(redParen, null, "#f25555", 0, 29, 22),
        labelS(cyanParen, null, "#35e5e5", 0, 29, 22),
      ],
    } as any);
    return () => chart.dispose();
  }, []);
  return <div ref={ref} style={{ position: "fixed", left: 0, top: 0, width: 1690, height: 999 }} />;
}

export default App;
